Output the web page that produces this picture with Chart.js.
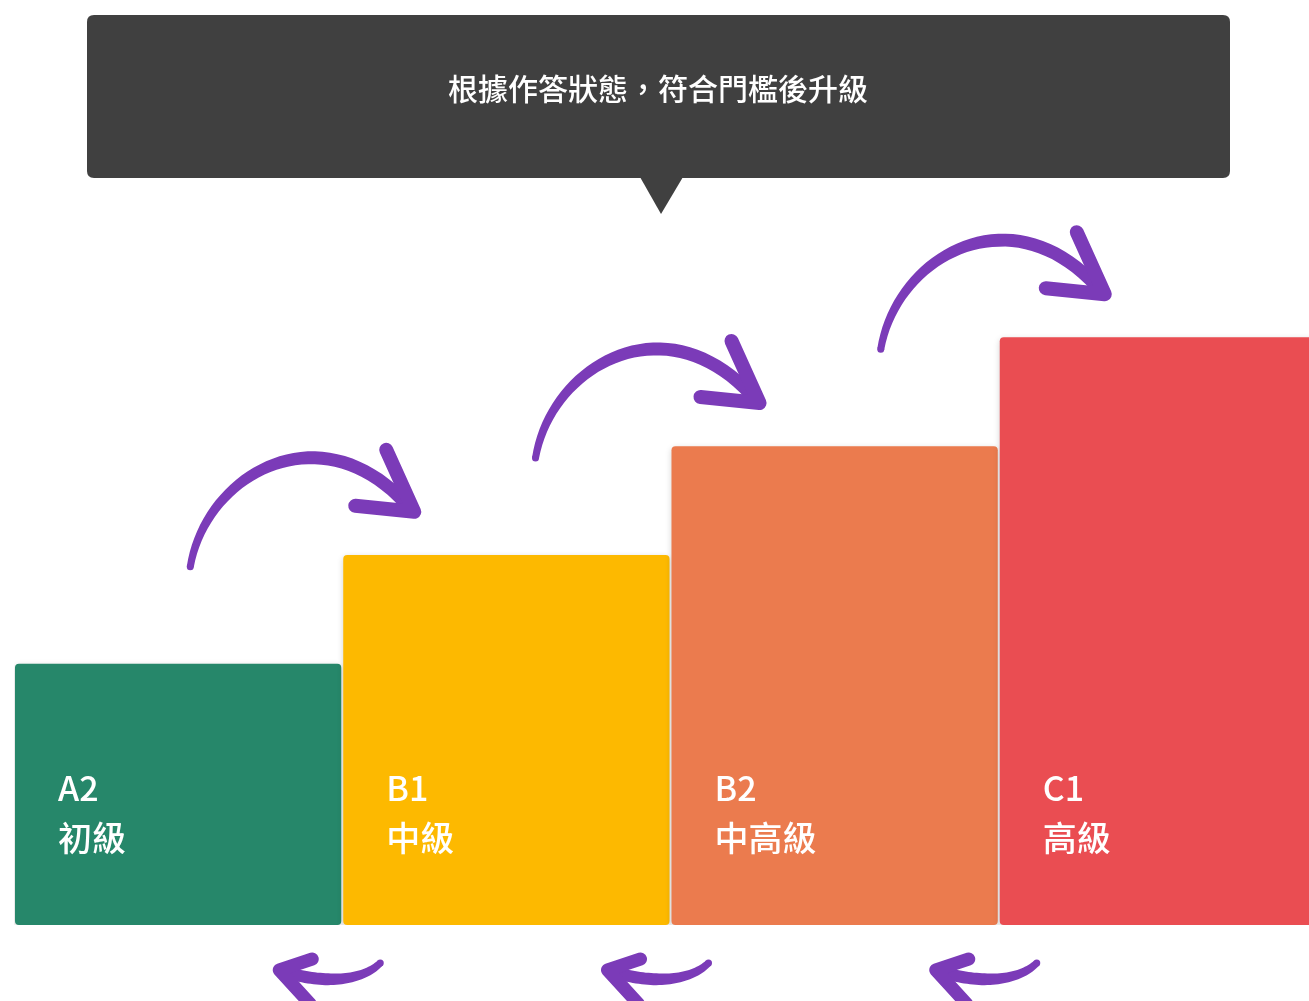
<!DOCTYPE html>
<html lang="zh-Hant">
<head>
<meta charset="utf-8">
<script src="https://cdn.jsdelivr.net/npm/chart.js@4/dist/chart.umd.min.js"></script>
<style>
  html, body { margin: 0; padding: 0; background: #ffffff; overflow: hidden; }
  #wrap { position: relative; width: 1327px; height: 1001px; }
</style>
</head>
<body>
<div id="wrap"><canvas id="levels"></canvas></div>
<script>
// Datos del gráfico
const levelCodes = ['A2', 'B1', 'B2', 'C1'];
const levelNames = ['初級', '中級', '中高級', '高級'];
const levelHeights = [24, 34, 44, 54];
const levelColors = ['#26876a', '#fdb900', '#eb7b4e', '#ea4d52'];
const bannerText = '根據作答狀態，符合門檻後升級';

const purple = '#7b3bb8';
const fontFamily = '"Noto Sans CJK TC", "Noto Sans", sans-serif';

// Trazo curvo con grosor variable (cubic bezier)
function taperedCurve(ctx, p0, p1, p2, p3, w0, w1) {
    const pts = [];
    const n = 40;
    for (let k = 0; k <= n; k++) {
        const t = k / n, u = 1 - t;
        const x = u*u*u*p0[0] + 3*u*u*t*p1[0] + 3*u*t*t*p2[0] + t*t*t*p3[0];
        const y = u*u*u*p0[1] + 3*u*u*t*p1[1] + 3*u*t*t*p2[1] + t*t*t*p3[1];
        const dx = 3*u*u*(p1[0]-p0[0]) + 6*u*t*(p2[0]-p1[0]) + 3*t*t*(p3[0]-p2[0]);
        const dy = 3*u*u*(p1[1]-p0[1]) + 6*u*t*(p2[1]-p1[1]) + 3*t*t*(p3[1]-p2[1]);
        const len = Math.hypot(dx, dy) || 1;
        const w = (w0 + (w1 - w0) * Math.min(1, t * 1.6)) / 2;
        pts.push({ x, y, nx: -dy / len * w, ny: dx / len * w, w });
    }
    ctx.beginPath();
    pts.forEach((p, i) => i ? ctx.lineTo(p.x + p.nx, p.y + p.ny) : ctx.moveTo(p.x + p.nx, p.y + p.ny));
    for (let i = pts.length - 1; i >= 0; i--) ctx.lineTo(pts[i].x - pts[i].nx, pts[i].y - pts[i].ny);
    ctx.closePath();
    ctx.fill();
    // extremos redondeados
    [pts[0], pts[pts.length - 1]].forEach(p => {
        ctx.beginPath();
        ctx.arc(p.x, p.y, p.w, 0, Math.PI * 2);
        ctx.fill();
    });
}

// Flecha curva hacia arriba (origen = cola)
function drawUpArrow(ctx, ox, oy) {
    ctx.save();
    ctx.translate(ox, oy);
    ctx.fillStyle = purple;
    ctx.strokeStyle = purple;
    taperedCurve(ctx, [0, 0], [16, -95], [135, -160], [222, -56], 7, 13);
    ctx.lineCap = 'round';
    ctx.lineJoin = 'round';
    ctx.lineWidth = 14;
    ctx.beginPath();
    ctx.moveTo(196, -117);
    ctx.lineTo(224, -55);
    ctx.lineTo(165, -61);
    ctx.stroke();
    ctx.restore();
}

// Flecha pequeña hacia la izquierda (origen = punta)
function drawDownArrow(ctx, ox, oy) {
    ctx.save();
    ctx.translate(ox, oy);
    ctx.fillStyle = purple;
    ctx.strokeStyle = purple;
    taperedCurve(ctx, [104, -7], [85, 12], [45, 14], [6, 1], 7, 12);
    ctx.lineCap = 'round';
    ctx.lineJoin = 'round';
    ctx.lineWidth = 13;
    ctx.beginPath();
    ctx.moveTo(36, -11);
    ctx.lineTo(3, 0);
    ctx.lineTo(34, 34);
    ctx.stroke();
    ctx.restore();
}

function roundRect(ctx, x, y, w, h, r) {
    ctx.beginPath();
    ctx.moveTo(x + r, y);
    ctx.lineTo(x + w - r, y);
    ctx.quadraticCurveTo(x + w, y, x + w, y + r);
    ctx.lineTo(x + w, y + h - r);
    ctx.quadraticCurveTo(x + w, y + h, x + w - r, y + h);
    ctx.lineTo(x + r, y + h);
    ctx.quadraticCurveTo(x, y + h, x, y + h - r);
    ctx.lineTo(x, y + r);
    ctx.quadraticCurveTo(x, y, x + r, y);
    ctx.closePath();
}

// Sombra suave de las barras
const shadowPlugin = {
    id: 'barShadow',
    beforeDatasetsDraw(chart) {
        const ctx = chart.ctx;
        ctx.save();
        ctx.shadowColor = 'rgba(0, 0, 0, 0.18)';
        ctx.shadowBlur = 6;
        ctx.shadowOffsetY = 2;
    },
    afterDatasetsDraw(chart) {
        chart.ctx.restore();
    }
};

// Etiquetas, flechas y cartel superior
const decoPlugin = {
    id: 'decorations',
    afterDraw(chart) {
        const ctx = chart.ctx;
        const xs = chart.scales.x;
        const bars = chart.getDatasetMeta(0).data;

        // etiquetas dentro de cada barra
        ctx.save();
        ctx.fillStyle = '#ffffff';
        ctx.textAlign = 'left';
        ctx.textBaseline = 'middle';
        ctx.font = '500 34px ' + fontFamily;
        bars.forEach((bar, i) => {
            const left = bar.x - bar.width / 2;
            ctx.fillText(levelCodes[i], left + 43, 788);
            ctx.fillText(levelNames[i], left + 43, 838);
        });
        ctx.restore();

        // flechas de subida
        for (let i = 0; i < bars.length - 1; i++) {
            const boundary = xs.getPixelForValue(i + 0.5);
            drawUpArrow(ctx, boundary - 152 + 17 * i, bars[i].y - 97);
        }
        // flechas de bajada
        for (let i = 0; i < bars.length - 1; i++) {
            const boundary = xs.getPixelForValue(i + 0.5);
            drawDownArrow(ctx, boundary - 66, 970);
        }

        // cartel superior
        ctx.save();
        ctx.fillStyle = '#404040';
        roundRect(ctx, 87, 15, 1143, 163, 7);
        ctx.fill();
        ctx.beginPath();
        ctx.moveTo(640, 177);
        ctx.lineTo(683, 177);
        ctx.lineTo(661, 214);
        ctx.closePath();
        ctx.fill();
        ctx.fillStyle = '#ffffff';
        ctx.textAlign = 'center';
        ctx.textBaseline = 'middle';
        ctx.font = '500 30px ' + fontFamily;
        ctx.fillText(bannerText, 658, 89);
        ctx.restore();
    }
};

const ctx = document.getElementById('levels').getContext('2d');
new Chart(ctx, {
    type: 'bar',
    data: {
        labels: levelCodes,
        datasets: [{
            data: levelHeights,
            backgroundColor: levelColors,
            borderRadius: 4,
            borderSkipped: false,
            categoryPercentage: 1,
            barPercentage: 0.994
        }]
    },
    options: {
        responsive: true,
        maintainAspectRatio: false,
        animation: false,
        layout: { padding: { left: 14, right: 0, top: 0, bottom: 76 } },
        plugins: {
            legend: { display: false },
            tooltip: { enabled: false }
        },
        scales: {
            x: { display: false },
            y: { display: false, min: 0, max: 85 }
        }
    },
    plugins: [shadowPlugin, decoPlugin]
});
</script>
</body>
</html>
